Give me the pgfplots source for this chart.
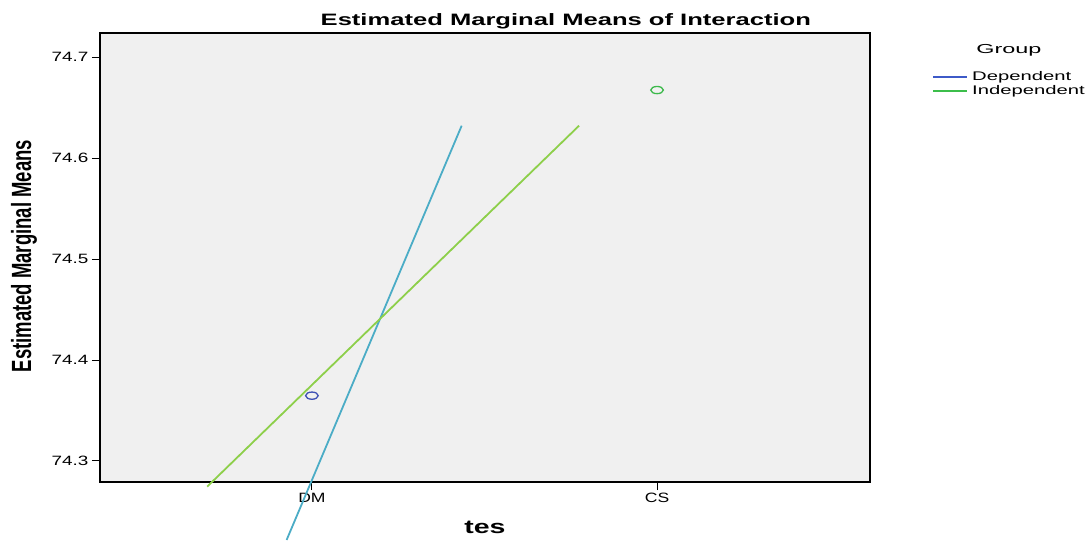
\documentclass[border=0pt]{standalone}
\usepackage{pgfplots}
\pgfplotsset{compat=1.18}
\usepackage{graphicx}
\usepackage{fontspec}
\setmainfont{Liberation Sans}
\definecolor{bgcol}{RGB}{240,240,240}
\definecolor{lineblue}{RGB}{75,172,198}
\definecolor{linegreen}{RGB}{141,207,74}
\definecolor{mkblue}{RGB}{62,80,180}
\definecolor{mkgreen}{RGB}{60,185,75}
\definecolor{legblue}{RGB}{61,90,200}
\definecolor{leggreen}{RGB}{60,190,75}
\begin{document}
\begin{tikzpicture}
\begin{axis}[
  scale only axis,
  width=770pt, height=449pt,
  xmin=-0.614, xmax=1.617,
  ymin=74.2792, ymax=74.7238,
  clip=false,
  /pgf/number format/assume math mode=true,
  axis background/.style={fill=bgcol},
  axis line style={black, line width=1.1pt},
  xtick={0,1},
  xticklabels={\scalebox{1.3}[1]{DM},\scalebox{1.3}[1]{CS}},
  ytick={74.3,74.4,74.5,74.6,74.7},
  yticklabel={\scalebox{1.4}[1]{\pgfmathprintnumber[fixed,precision=1,assume math mode=true]{\tick}}},
  tick label style={font=\fontsize{13.5}{15}\selectfont},
  xtick pos=bottom, ytick pos=left,
  tick align=outside,
  major tick length=8pt,
  tick style={black, line width=1pt},
  xlabel={\scalebox{1.5}[1]{\bfseries tes}},
  xlabel style={font=\fontsize{19}{21}\selectfont, at={(axis description cs:0.5,-0.100)}, anchor=center},
  ylabel={\scalebox{1}[1.5]{\bfseries Estimated Marginal Means}},
  ylabel style={font=\fontsize{18.5}{20}\selectfont, at={(axis description cs:-0.0987,0.503)}, anchor=center},
  legend style={draw=none, fill=none, at={(axis description cs:1.0805,0.919)}, anchor=north west,
    font=\fontsize{12.5}{13}\selectfont, row sep=0pt, column sep=0pt, inner sep=0pt,
    nodes={inner xsep=4pt, inner ysep=1pt, text height=9.5pt, text depth=3pt}},
  legend cell align=left,
  legend image code/.code={\draw[#1] (0pt,0pt) -- (34pt,0pt);},
]
% interaction lines (as drawn in reference)
\addplot[lineblue, line width=1.8pt, forget plot] coordinates {(-0.0733,74.2218) (0.4339,74.632)};
\addplot[linegreen, line width=1.8pt, forget plot] coordinates {(-0.3035,74.2746) (0.774,74.632)};
% estimated means
\addplot[only marks, mark=o, mark size=3.6pt, mkblue, mark options={xscale=1.75, line width=1.3pt}, forget plot] coordinates {(0,74.3647)};
\addplot[only marks, mark=o, mark size=3.6pt, mkgreen, mark options={xscale=1.75, line width=1.3pt}, forget plot] coordinates {(1,74.6673)};
\addlegendimage{legblue, line width=2pt}
\addlegendentry{\scalebox{1.62}[1]{Dependent}}
\addlegendimage{leggreen, line width=2pt}
\addlegendentry{\scalebox{1.62}[1]{Independent}}
\node[font=\fontsize{16.5}{18}\selectfont] at (axis description cs:0.605,1.0267) {\scalebox{1.55}[1]{\bfseries Estimated Marginal Means of Interaction}};
\node[font=\fontsize{13}{15}\selectfont] at (axis description cs:1.1805,0.962) {\scalebox{1.8}[1]{Group}};
\path (axis description cs:-0.129870,-0.129176) rectangle (axis description cs:1.285714,1.073497);
\end{axis}
\end{tikzpicture}
\end{document}
